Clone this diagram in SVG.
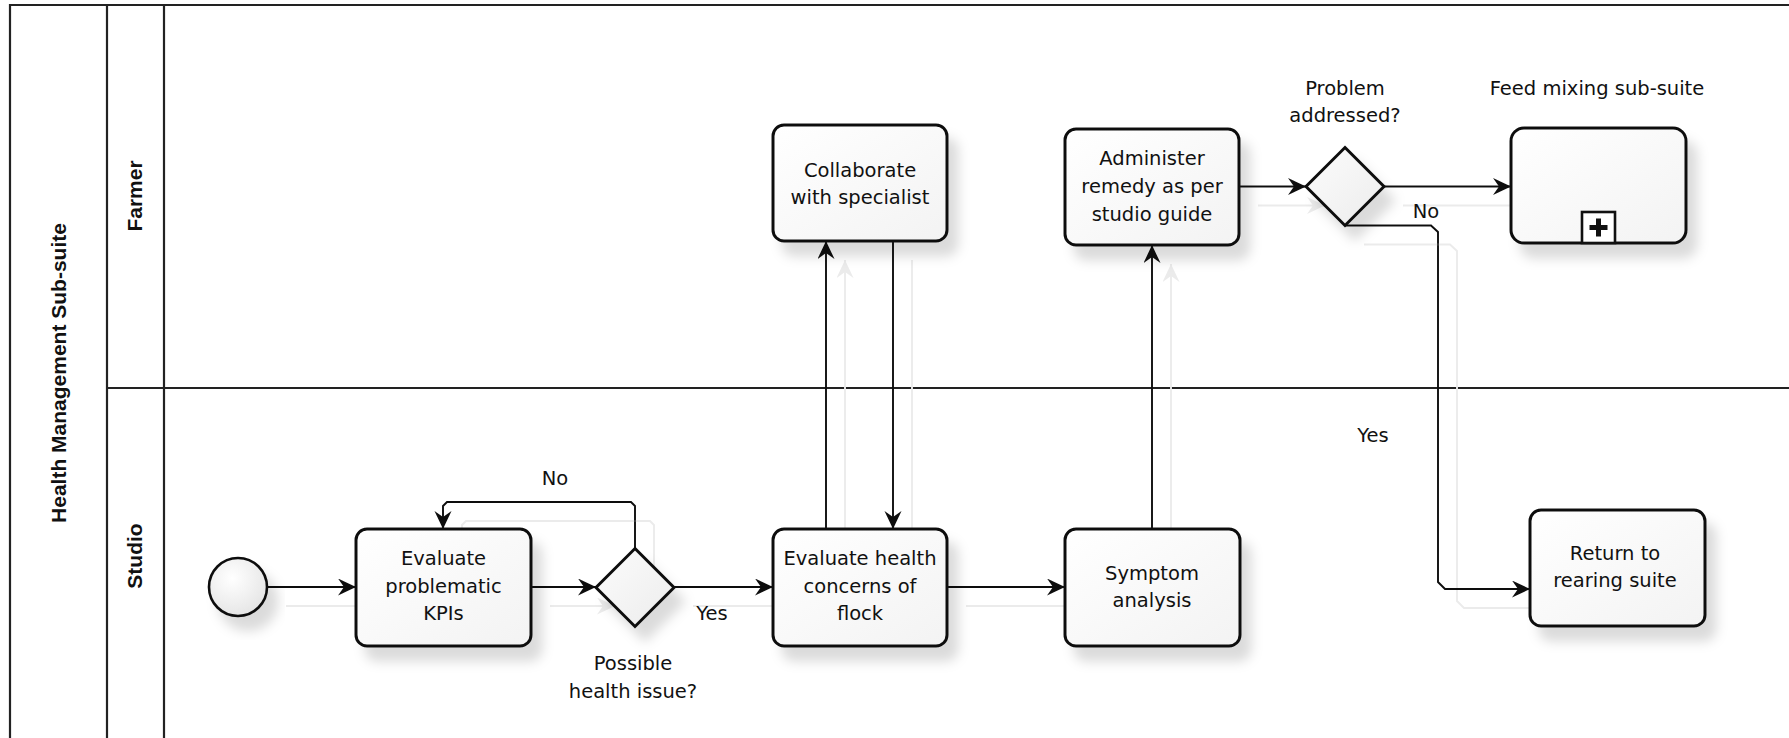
<svg xmlns="http://www.w3.org/2000/svg" width="1789" height="738" viewBox="0 0 1789 738">
  <defs>
    <style>
      .pool { fill: none; stroke: #222; stroke-width: 2.2; }
      .task { fill: url(#taskFill); stroke: #111; stroke-width: 3; filter: url(#nodeShadow); }
      .gw { fill: url(#gwFill); stroke: #111; stroke-width: 3; stroke-linejoin: miter; filter: url(#nodeShadow); }
      .ev { fill: url(#evFill); stroke: #111; stroke-width: 2.6; filter: url(#nodeShadow); }
      .txt { font-family: "DejaVu Sans", "Liberation Sans", sans-serif; font-size: 19.5px; fill: #111; text-anchor: middle; }
      .hdr { font-family: "Liberation Sans", Arial, sans-serif; font-weight: bold; font-size: 21px; fill: #111; text-anchor: middle; }
      .flow { fill: none; stroke: #111; stroke-width: 1.9; marker-end: url(#arrow); }
    </style>
    <linearGradient id="taskFill" x1="0" y1="0" x2="1" y2="1">
      <stop offset="0" stop-color="#ffffff"/>
      <stop offset="1" stop-color="#f3f3f3"/>
    </linearGradient>
    <linearGradient id="gwFill" x1="0" y1="0" x2="1" y2="1">
      <stop offset="0" stop-color="#fcfcfc"/>
      <stop offset="1" stop-color="#ececec"/>
    </linearGradient>
    <radialGradient id="evFill" cx="0.4" cy="0.35" r="0.7">
      <stop offset="0" stop-color="#ffffff"/>
      <stop offset="1" stop-color="#e4e4e4"/>
    </radialGradient>
    <filter id="nodeShadow" x="-20%" y="-20%" width="150%" height="160%">
      <feDropShadow dx="10" dy="14" stdDeviation="6" flood-color="#000" flood-opacity="0.14"/>
    </filter>
    <filter id="flowShadow" filterUnits="userSpaceOnUse" x="0" y="0" width="1789" height="738">
      <feOffset in="SourceAlpha" dx="19" dy="19" result="off"/>
      <feFlood flood-color="#ebebeb" result="tint"/>
      <feComposite in="tint" in2="off" operator="in" result="ghost"/>
      <feMerge>
        <feMergeNode in="ghost"/>
        <feMergeNode in="SourceGraphic"/>
      </feMerge>
    </filter>
    <marker id="arrow" markerUnits="userSpaceOnUse" markerWidth="20" markerHeight="18" refX="18" refY="8.5" orient="auto">
      <path d="M0,0 L18,8.5 L0,17 L6,8.5 Z" fill="#111"/>
    </marker>
  </defs>

  <rect x="0" y="0" width="1789" height="738" fill="#ffffff"/>

  <!-- Pool and lanes -->
  <g id="pool">
    <path class="pool" d="M1789,5 H10 V738"/>
    <line class="pool" x1="107" y1="5" x2="107" y2="738"/>
    <line class="pool" x1="164" y1="5" x2="164" y2="738"/>
    <line class="pool" x1="107" y1="388" x2="1789" y2="388"/>
    <text class="hdr" x="66" y="373" transform="rotate(-90 66 373)">Health Management Sub-suite</text>
  </g>
  <g id="lane-farmer">
    <text class="hdr" x="142" y="196" transform="rotate(-90 142 196)">Farmer</text>
  </g>
  <g id="lane-studio">
    <text class="hdr" x="142" y="556" transform="rotate(-90 142 556)">Studio</text>
  </g>

  <!-- Sequence flows -->
  <g id="connectors" filter="url(#flowShadow)">
    <path class="flow" d="M267,587 H356"/>
    <path class="flow" d="M531,587 H596"/>
    <path class="flow" d="M674,587 H773"/>
    <path class="flow" d="M635,548 V506 L631,502 H447 L443,506 V529"/>
    <path class="flow" d="M826,529 V241"/>
    <path class="flow" d="M893,241 V529"/>
    <path class="flow" d="M947,587 H1065"/>
    <path class="flow" d="M1152,529 V245"/>
    <path class="flow" d="M1239,186.5 H1306"/>
    <path class="flow" d="M1384,186.5 H1511"/>
    <path class="flow" d="M1345,225.5 H1431 L1438,232 V582 L1445,589 H1530"/>
  </g>

  <!-- Flow labels -->
  <g id="flow-labels">
    <text class="txt" x="555" y="485">No</text>
    <text class="txt" x="712" y="620">Yes</text>
    <text class="txt" x="1426" y="218">No</text>
    <text class="txt" x="1373" y="442">Yes</text>
  </g>

  <g id="start">
    <circle class="ev" cx="238" cy="587" r="29"/>
  </g>

  <g id="evaluate-kpis">
    <rect class="task" x="356" y="529" width="175" height="117" rx="11"/>
    <text class="txt" x="443.5" y="565">Evaluate</text>
    <text class="txt" x="443.5" y="593">problematic</text>
    <text class="txt" x="443.5" y="620">KPIs</text>
  </g>

  <g id="gw-health-issue">
    <path class="gw" d="M635,548.5 L674,587.5 L635,626.5 L596,587.5 Z"/>
    <text class="txt" x="633" y="670">Possible</text>
    <text class="txt" x="633" y="698">health issue?</text>
  </g>

  <g id="evaluate-health">
    <rect class="task" x="773" y="529" width="174" height="117" rx="11"/>
    <text class="txt" x="860" y="565">Evaluate health</text>
    <text class="txt" x="860" y="593">concerns of</text>
    <text class="txt" x="860" y="620">flock</text>
  </g>

  <g id="collaborate">
    <rect class="task" x="773" y="125" width="174" height="116" rx="11"/>
    <text class="txt" x="860" y="177">Collaborate</text>
    <text class="txt" x="860" y="204">with specialist</text>
  </g>

  <g id="symptom-analysis">
    <rect class="task" x="1065" y="529" width="175" height="117" rx="11"/>
    <text class="txt" x="1152" y="580">Symptom</text>
    <text class="txt" x="1152" y="607">analysis</text>
  </g>

  <g id="administer-remedy">
    <rect class="task" x="1065" y="129" width="174" height="116" rx="11"/>
    <text class="txt" x="1152" y="165">Administer</text>
    <text class="txt" x="1152" y="193">remedy as per</text>
    <text class="txt" x="1152" y="221">studio guide</text>
  </g>

  <g id="gw-problem-addressed">
    <path class="gw" d="M1345,147.5 L1384,186.5 L1345,225.5 L1306,186.5 Z"/>
    <text class="txt" x="1345" y="95">Problem</text>
    <text class="txt" x="1345" y="122">addressed?</text>
  </g>

  <g id="feed-mixing">
    <rect class="task" x="1511" y="128" width="175" height="115" rx="13"/>
    <rect x="1582" y="212" width="33" height="31" fill="#ffffff" stroke="#111" stroke-width="2.6"/>
    <path d="M1598.5,218.5 V236.5 M1589.5,227.5 H1607.5" stroke="#111" stroke-width="5" fill="none"/>
    <text class="txt" x="1597" y="95">Feed mixing sub-suite</text>
  </g>

  <g id="return-rearing">
    <rect class="task" x="1530" y="510" width="175" height="116" rx="11"/>
    <text class="txt" x="1615" y="560">Return to</text>
    <text class="txt" x="1615" y="587">rearing suite</text>
  </g>
</svg>
